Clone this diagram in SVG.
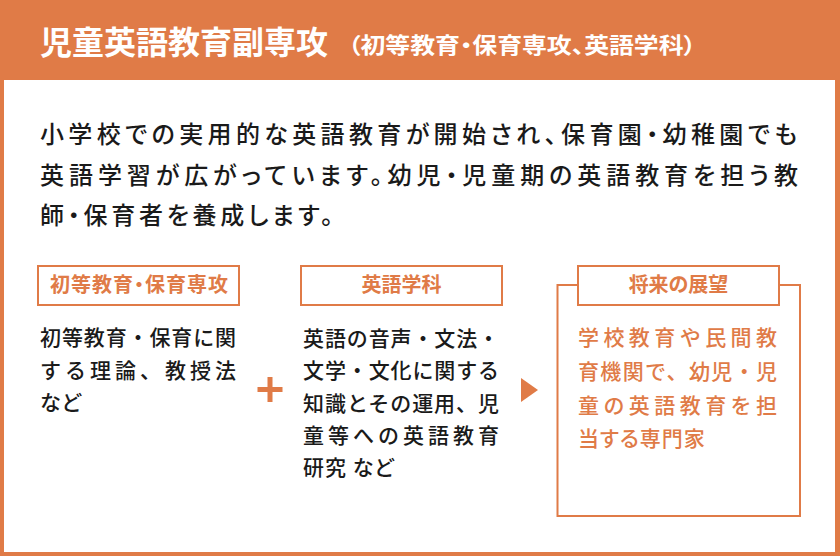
<svg xmlns="http://www.w3.org/2000/svg" width="840" height="556" viewBox="0 0 840 556">
<style>
.jp{font-family:"Noto Sans CJK JP","Noto Sans CJK SC",sans-serif;font-feature-settings:"palt"}
.ttl{font-size:32px;font-weight:700;fill:#fff}
.sub{font-size:22px;font-weight:700;fill:#fff}
.para{font-size:24px;font-weight:500;fill:#1a1a1a}
.lab{font-size:20px;font-weight:700;fill:#e07b47}
.body{font-size:21px;font-weight:500;fill:#1a1a1a;letter-spacing:1px}
.obody{font-size:21px;font-weight:500;fill:#e07b47;letter-spacing:1px}
.box{fill:#fff;stroke:#e07b47;stroke-width:2}
.acc{fill:#e07b47}
</style>
<rect x="0" y="0" width="840" height="556" class="acc"/>
<rect x="4" y="80" width="831" height="472" fill="#fff"/>
<g id="header">
<text class="jp ttl" x="40" y="54" textLength="288" lengthAdjust="spacingAndGlyphs">児童英語教育副専攻</text>
<text class="jp sub" x="348" y="52.5" textLength="348" lengthAdjust="spacingAndGlyphs">（初等教育・保育専攻、英語学科）</text>
</g>
<g id="intro">
<text class="jp para" x="40" y="143" textLength="757" lengthAdjust="spacing">小学校での実用的な英語教育が開始され、保育園・幼稚園でも</text>
<text class="jp para" x="40" y="183.5" textLength="758" lengthAdjust="spacing">英語学習が広がっています。幼児・児童期の英語教育を担う教</text>
<text class="jp para" x="40" y="224" textLength="293" lengthAdjust="spacing">師・保育者を養成します。</text>
</g>
<g id="col-shotou">
<rect class="box" x="38" y="266" width="201" height="39"/>
<text class="jp lab" x="50" y="292" textLength="178" lengthAdjust="spacing">初等教育・保育専攻</text>
<text class="jp body" x="40" y="345" textLength="197" lengthAdjust="spacing" style="font-feature-settings:normal">初等教育・保育に関</text>
<text class="jp body" x="40" y="378" textLength="197" lengthAdjust="spacing" style="font-feature-settings:normal">する理論、教授法</text>
<text class="jp body" x="40" y="410">など</text>
</g>
<g id="col-eigo">
<rect class="box" x="301" y="266" width="201" height="39"/>
<text class="jp lab" x="401.5" y="292" text-anchor="middle">英語学科</text>
<text class="jp body" x="303" y="346" textLength="197" lengthAdjust="spacing" style="font-feature-settings:normal">英語の音声・文法・</text>
<text class="jp body" x="303" y="378" textLength="197" lengthAdjust="spacing" style="font-feature-settings:normal">文学・文化に関する</text>
<text class="jp body" x="303" y="411" textLength="197" lengthAdjust="spacing" style="font-feature-settings:normal">知識とその運用、児</text>
<text class="jp body" x="303" y="443" textLength="197" lengthAdjust="spacing" style="font-feature-settings:normal">童等への英語教育</text>
<text class="jp body" x="303" y="475">研究 など</text>
</g>
<g id="col-shourai">
<rect class="box" x="557.5" y="285" width="242.5" height="231"/>
<rect class="box" x="578" y="266" width="201" height="39"/>
<text class="jp lab" x="678.5" y="292" text-anchor="middle">将来の展望</text>
<text class="jp obody" x="578" y="345" textLength="200" lengthAdjust="spacing" style="font-feature-settings:normal">学校教育や民間教</text>
<text class="jp obody" x="578" y="379" textLength="200" lengthAdjust="spacing" style="font-feature-settings:normal">育機関で、幼児・児</text>
<text class="jp obody" x="578" y="413" textLength="200" lengthAdjust="spacing" style="font-feature-settings:normal">童の英語教育を担</text>
<text class="jp obody" x="578" y="446">当する専門家</text>
</g>
<g id="connectors">
<path class="acc" d="M267.5 377h5v10h10v5h-10v10h-5v-10h-10v-5h10z"/>
<path class="acc" d="M521 378L538 390L521 402z"/>
</g>
</svg>
